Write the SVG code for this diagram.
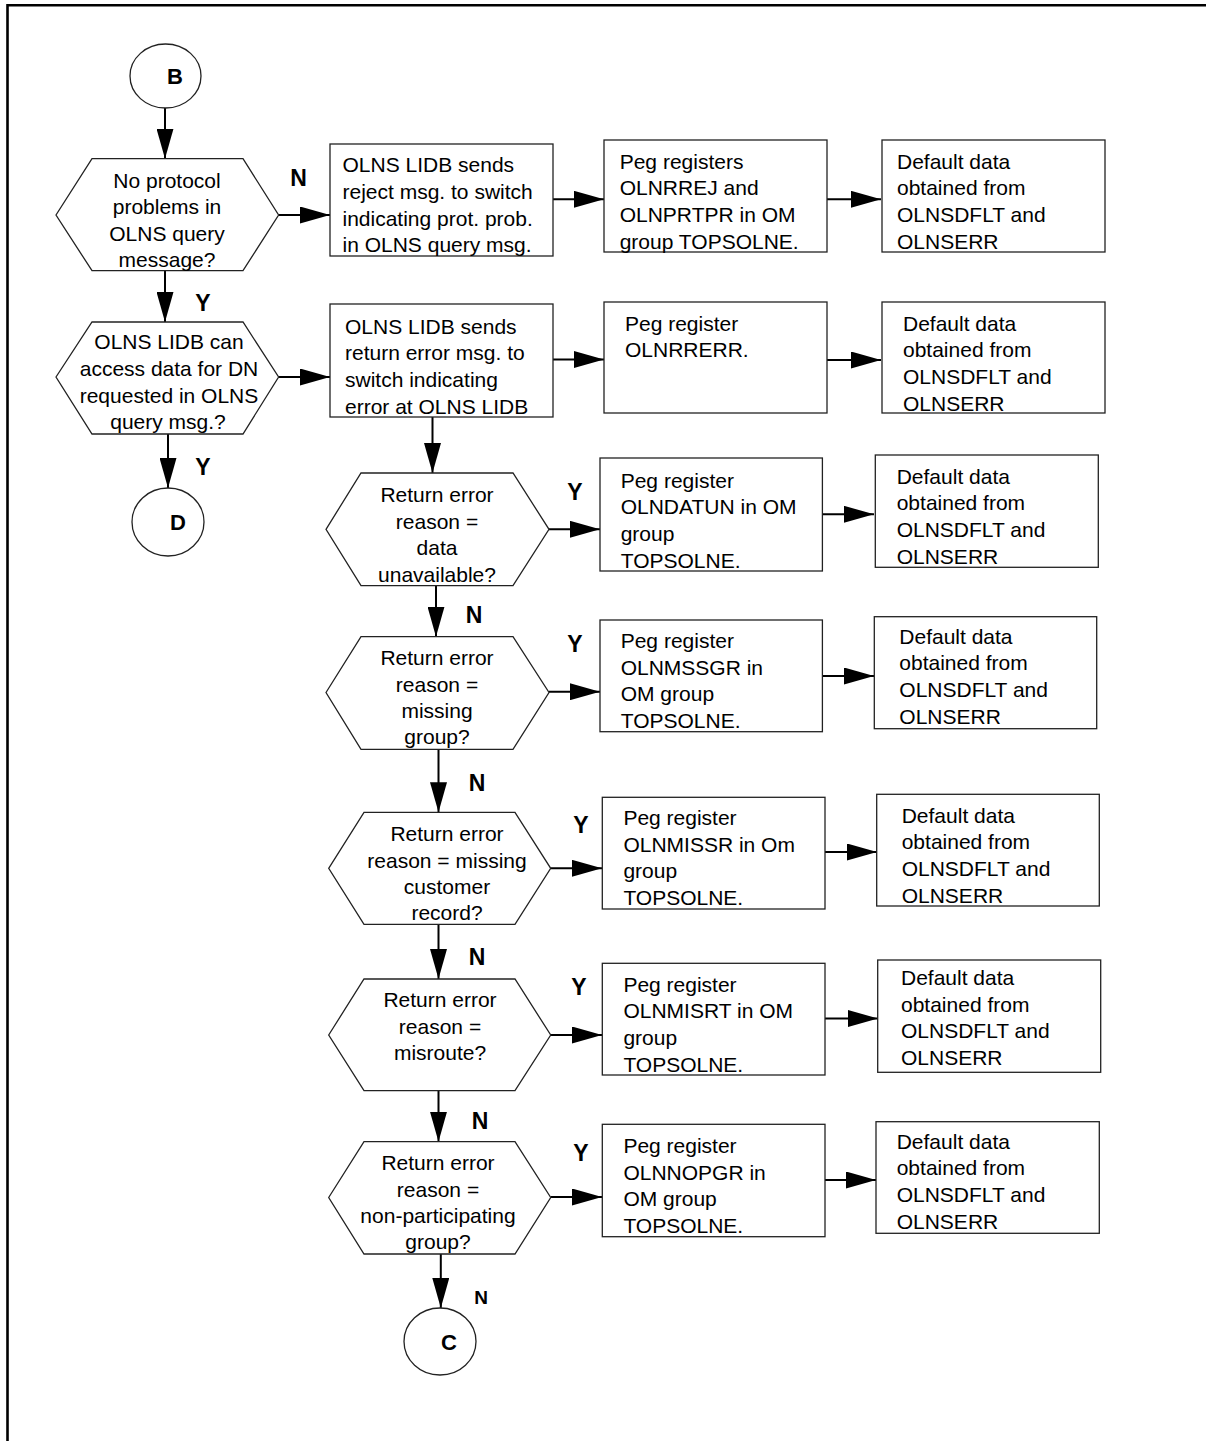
<svg xmlns="http://www.w3.org/2000/svg" width="1206" height="1441" viewBox="0 0 1206 1441">
<defs>
<marker id="ah" markerUnits="userSpaceOnUse" markerWidth="31" markerHeight="17" refX="30" refY="8.5" orient="auto">
<path d="M0,0 L30,8.5 L0,17 z" fill="#000"/>
</marker>
<style>
.sh{fill:#fff;stroke:#222;stroke-width:1.3}
.t{font-family:"Liberation Sans",Arial,sans-serif;font-size:21px;fill:#000}
.c{text-anchor:middle}
.lb{font-family:"Liberation Sans",Arial,sans-serif;font-size:23px;font-weight:bold;fill:#000;text-anchor:middle}
.cn{fill:none;stroke:#000;stroke-width:2;marker-end:url(#ah)}
</style>
</defs>
<rect width="1206" height="1441" fill="#fff"/>
<path d="M7.5,1441 V5.3 H1206" fill="none" stroke="#000" stroke-width="2.6"/>

<g id="connectors">
<path class="cn" d="M165,108 V158.7"/>
<path class="cn" d="M165,270.7 V322"/>
<path class="cn" d="M168,434 V488"/>
<path class="cn" d="M278.6,215 H330"/>
<path class="cn" d="M278.6,377 H330"/>
<path class="cn" d="M553,199.3 H604"/>
<path class="cn" d="M827,199.3 H881"/>
<path class="cn" d="M553,359.5 H604"/>
<path class="cn" d="M827,360 H881"/>
<path class="cn" d="M432.5,417 V473"/>
<path class="cn" d="M549,529.3 H600"/>
<path class="cn" d="M822.4,514.3 H874"/>
<path class="cn" d="M436,585.7 V636.7"/>
<path class="cn" d="M549,691.7 H600"/>
<path class="cn" d="M822.4,676 H874"/>
<path class="cn" d="M438.5,749.3 V812.3"/>
<path class="cn" d="M550.7,868.3 H602"/>
<path class="cn" d="M825,852 H877"/>
<path class="cn" d="M438.5,924.3 V979"/>
<path class="cn" d="M550.7,1035 H602"/>
<path class="cn" d="M825,1018.5 H878"/>
<path class="cn" d="M438.5,1090.7 V1141.7"/>
<path class="cn" d="M550.7,1197 H602"/>
<path class="cn" d="M825,1180 H876"/>
<path class="cn" d="M440.8,1254 V1308"/>
</g>

<g id="labels">
<text class="lb" x="298.5" y="186">N</text>
<text class="lb" x="203" y="311">Y</text>
<text class="lb" x="203" y="475">Y</text>
<text class="lb" x="575" y="500">Y</text>
<text class="lb" x="474" y="623">N</text>
<text class="lb" x="575" y="652">Y</text>
<text class="lb" x="477" y="791">N</text>
<text class="lb" x="581" y="833">Y</text>
<text class="lb" x="477" y="965">N</text>
<text class="lb" x="579" y="995">Y</text>
<text class="lb" x="480" y="1129">N</text>
<text class="lb" x="581" y="1161">Y</text>
<text class="lb" x="481" y="1304" style="font-size:19px">N</text>
</g>

<g id="B">
<ellipse class="sh" cx="165.5" cy="76" rx="35.5" ry="32"/>
<text class="lb" x="175" y="84" style="font-size:22px">B</text>
</g>

<g id="D">
<ellipse class="sh" cx="168" cy="522" rx="36" ry="34"/>
<text class="lb" x="178" y="530" style="font-size:22px">D</text>
</g>

<g id="C">
<ellipse class="sh" cx="440" cy="1341.5" rx="36" ry="33.5"/>
<text class="lb" x="449" y="1349.5" style="font-size:22px">C</text>
</g>

<g id="hex1">
<polygon class="sh" points="56,215 92,158.7 243,158.7 278.6,215 243,270.7 92,270.7"/>
<text class="t c" x="167" y="187.5">No protocol</text>
<text class="t c" x="167" y="214">problems in</text>
<text class="t c" x="167" y="240.5">OLNS query</text>
<text class="t c" x="167" y="267">message?</text>
</g>

<g id="hex2">
<polygon class="sh" points="56,377 92,322 243,322 278.6,377 243,434 92,434"/>
<text class="t c" x="169" y="349">OLNS LIDB can</text>
<text class="t c" x="169" y="376">access data for DN</text>
<text class="t c" x="169" y="402.5">requested in OLNS</text>
<text class="t c" x="168" y="429">query msg.?</text>
</g>

<g id="box1">
<rect class="sh" x="330" y="144" width="223" height="112"/>
<text class="t" x="342.5" y="172">OLNS LIDB sends</text>
<text class="t" x="342.5" y="198.8">reject msg. to switch</text>
<text class="t" x="342.5" y="225.6">indicating prot. prob.</text>
<text class="t" x="342.5" y="252.4">in OLNS query msg.</text>
</g>

<g id="box2">
<rect class="sh" x="330" y="304" width="223" height="113"/>
<text class="t" x="345" y="333.5">OLNS LIDB sends</text>
<text class="t" x="345" y="360.3">return error msg. to</text>
<text class="t" x="345" y="387.1">switch indicating</text>
<text class="t" x="345" y="413.9">error at OLNS LIDB</text>
</g>

<g id="box3">
<rect class="sh" x="604" y="140" width="223" height="112"/>
<text class="t" x="619.7" y="168.5">Peg registers</text>
<text class="t" x="619.7" y="195.2">OLNRREJ and</text>
<text class="t" x="619.7" y="221.9">OLNPRTPR in OM</text>
<text class="t" x="619.7" y="248.6">group TOPSOLNE.</text>
</g>

<g id="box4">
<rect class="sh" x="882" y="140" width="223" height="112"/>
<text class="t" x="897" y="168.5">Default data</text>
<text class="t" x="897" y="195.2">obtained from</text>
<text class="t" x="897" y="221.9">OLNSDFLT and</text>
<text class="t" x="897" y="248.6">OLNSERR</text>
</g>

<g id="box5">
<rect class="sh" x="604" y="302" width="223" height="111"/>
<text class="t" x="625" y="330.5">Peg register</text>
<text class="t" x="625" y="357.2">OLNRRERR.</text>
</g>

<g id="box6">
<rect class="sh" x="882" y="302" width="223" height="111"/>
<text class="t" x="903" y="330.5">Default data</text>
<text class="t" x="903" y="357.2">obtained from</text>
<text class="t" x="903" y="383.9">OLNSDFLT and</text>
<text class="t" x="903" y="410.6">OLNSERR</text>
</g>

<g id="hex3">
<polygon class="sh" points="326,529.3 361,473 513,473 549,529.3 513,585.7 361,585.7"/>
<text class="t c" x="437" y="501.5">Return error</text>
<text class="t c" x="437" y="528.5">reason =</text>
<text class="t c" x="437" y="555">data</text>
<text class="t c" x="437" y="581.5">unavailable?</text>
</g>

<g id="box7">
<rect class="sh" x="600" y="458" width="222.4" height="113"/>
<text class="t" x="620.7" y="487.5">Peg register</text>
<text class="t" x="620.7" y="514.2">OLNDATUN in OM</text>
<text class="t" x="620.7" y="540.9">group</text>
<text class="t" x="620.7" y="567.6">TOPSOLNE.</text>
</g>

<g id="box8">
<rect class="sh" x="875.3" y="455" width="223" height="112.3"/>
<text class="t" x="896.7" y="483.5">Default data</text>
<text class="t" x="896.7" y="510.2">obtained from</text>
<text class="t" x="896.7" y="536.9">OLNSDFLT and</text>
<text class="t" x="896.7" y="563.6">OLNSERR</text>
</g>

<g id="hex4">
<polygon class="sh" points="326,692.5 361,636.7 513,636.7 549,692.5 513,749.3 361,749.3"/>
<text class="t c" x="437" y="664.5">Return error</text>
<text class="t c" x="437" y="691.5">reason =</text>
<text class="t c" x="437" y="717.5">missing</text>
<text class="t c" x="437" y="744">group?</text>
</g>

<g id="box9">
<rect class="sh" x="600" y="620" width="222.4" height="111.7"/>
<text class="t" x="620.7" y="648">Peg register</text>
<text class="t" x="620.7" y="674.7">OLNMSSGR in</text>
<text class="t" x="620.7" y="701.4">OM group</text>
<text class="t" x="620.7" y="728.1">TOPSOLNE.</text>
</g>

<g id="box10">
<rect class="sh" x="874.3" y="616.7" width="222.4" height="112"/>
<text class="t" x="899.3" y="643.5">Default data</text>
<text class="t" x="899.3" y="670.2">obtained from</text>
<text class="t" x="899.3" y="696.9">OLNSDFLT and</text>
<text class="t" x="899.3" y="723.6">OLNSERR</text>
</g>

<g id="hex5">
<polygon class="sh" points="328.7,868.3 364,812.3 515,812.3 550.7,868.3 515,924.3 364,924.3"/>
<text class="t c" x="447" y="841">Return error</text>
<text class="t c" x="447" y="867.5">reason = missing</text>
<text class="t c" x="447" y="893.5">customer</text>
<text class="t c" x="447" y="920">record?</text>
</g>

<g id="box11">
<rect class="sh" x="602.3" y="797.3" width="222.7" height="111.7"/>
<text class="t" x="623.4" y="825">Peg register</text>
<text class="t" x="623.4" y="851.7">OLNMISSR in Om</text>
<text class="t" x="623.4" y="878.4">group</text>
<text class="t" x="623.4" y="905.1">TOPSOLNE.</text>
</g>

<g id="box12">
<rect class="sh" x="876.7" y="794.3" width="222.6" height="111.7"/>
<text class="t" x="901.7" y="822.5">Default data</text>
<text class="t" x="901.7" y="849.2">obtained from</text>
<text class="t" x="901.7" y="875.9">OLNSDFLT and</text>
<text class="t" x="901.7" y="902.6">OLNSERR</text>
</g>

<g id="hex6">
<polygon class="sh" points="328.7,1035 364,979 515,979 550.7,1035 515,1090.7 364,1090.7"/>
<text class="t c" x="440" y="1006.5">Return error</text>
<text class="t c" x="440" y="1034">reason =</text>
<text class="t c" x="440" y="1059.5">misroute?</text>
</g>

<g id="box13">
<rect class="sh" x="602.3" y="963.3" width="222.7" height="111.7"/>
<text class="t" x="623.4" y="991.5">Peg register</text>
<text class="t" x="623.4" y="1018.2">OLNMISRT in OM</text>
<text class="t" x="623.4" y="1044.9">group</text>
<text class="t" x="623.4" y="1071.6">TOPSOLNE.</text>
</g>

<g id="box14">
<rect class="sh" x="877.7" y="960" width="223" height="112.3"/>
<text class="t" x="901" y="985">Default data</text>
<text class="t" x="901" y="1011.7">obtained from</text>
<text class="t" x="901" y="1038.4">OLNSDFLT and</text>
<text class="t" x="901" y="1065.1">OLNSERR</text>
</g>

<g id="hex7">
<polygon class="sh" points="328.7,1197.5 364,1141.7 515,1141.7 550.7,1197.5 515,1254 364,1254"/>
<text class="t c" x="438" y="1170">Return error</text>
<text class="t c" x="438" y="1197">reason =</text>
<text class="t c" x="438" y="1222.5">non-participating</text>
<text class="t c" x="438" y="1249">group?</text>
</g>

<g id="box15">
<rect class="sh" x="602.3" y="1124.3" width="222.7" height="112.4"/>
<text class="t" x="623.4" y="1153">Peg register</text>
<text class="t" x="623.4" y="1179.7">OLNNOPGR in</text>
<text class="t" x="623.4" y="1206.4">OM group</text>
<text class="t" x="623.4" y="1233.1">TOPSOLNE.</text>
</g>

<g id="box16">
<rect class="sh" x="876" y="1121.7" width="223.3" height="111.6"/>
<text class="t" x="896.7" y="1148.5">Default data</text>
<text class="t" x="896.7" y="1175.2">obtained from</text>
<text class="t" x="896.7" y="1201.9">OLNSDFLT and</text>
<text class="t" x="896.7" y="1228.6">OLNSERR</text>
</g>
</svg>
